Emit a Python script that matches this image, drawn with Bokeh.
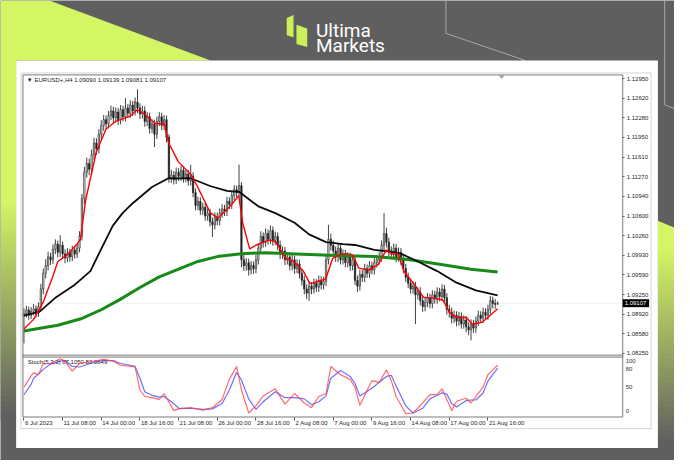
from bokeh.plotting import figure
from bokeh.models import (Range1d, FixedTicker, PrintfTickFormatter, ColumnDataSource,
                          BoxAnnotation, PolyAnnotation, Label, LinearAxis)
from bokeh.embed import file_html
from bokeh.resources import INLINE

# ---------------- data ----------------
time_tick_bars = [0, 16, 32, 48, 64, 80, 96, 112, 128, 144, 160, 176, 192]
time_tick_labels = ["6 Jul 2023", "11 Jul 08:00", "14 Jul 00:00", "18 Jul 16:00", "21 Jul 08:00",
                    "26 Jul 00:00", "28 Jul 16:00", "2 Aug 08:00", "7 Aug 00:00", "9 Aug 16:00",
                    "14 Aug 08:00", "17 Aug 00:00", "21 Aug 16:00"]
price_ticks = [1.12950, 1.12620, 1.12280, 1.11950, 1.11610, 1.11270, 1.10940, 1.10600,
               1.10260, 1.09930, 1.09590, 1.09250, 1.08920, 1.08580, 1.08250]
stoch_levels = [80, 50, 20]
stoch_scale_labels = [100, 80, 50, 0]

opens = [
 1.0889,1.0893,1.0899,1.0890,1.0897,1.0901,1.0894,1.0905,1.0935,1.0962,
 1.0975,1.0990,1.0985,1.1003,1.1012,1.0998,1.1010,1.0995,1.0988,1.0997,
 1.0990,1.1002,1.0995,1.1005,1.1025,1.1090,1.1135,1.1150,1.1140,1.1165,
 1.1185,1.1175,1.1200,1.1215,1.1225,1.1218,1.1232,1.1240,1.1228,1.1238,
 1.1225,1.1242,1.1230,1.1245,1.1236,1.1250,1.1240,1.1255,1.1245,1.1235,
 1.1240,1.1222,1.1230,1.1210,1.1218,1.1200,1.1222,1.1230,1.1215,1.1225,
 1.1195,1.1125,1.1130,1.1122,1.1135,1.1128,1.1138,1.1125,1.1132,1.1120,
 1.1128,1.1100,1.1078,1.1085,1.1070,1.1075,1.1060,1.1065,1.1050,1.1045,
 1.1058,1.1052,1.1065,1.1072,1.1068,1.1085,1.1080,1.1095,1.1105,1.1100,
 1.1112,1.0985,1.0975,1.0980,1.0968,1.0975,1.0970,1.0985,1.1005,1.1025,
 1.1015,1.1030,1.1020,1.1035,1.1018,1.1025,1.1010,1.0995,1.1000,1.0985,
 1.0990,1.0975,1.0985,1.0970,1.0978,1.0962,1.0950,1.0935,1.0928,1.0940,
 1.0935,1.0945,1.0938,1.0950,1.0942,1.0948,1.0985,1.1020,1.1010,1.1000,
 1.0990,1.1005,1.0985,1.0995,1.0980,1.0990,1.0975,1.0985,1.0950,1.0940,
 1.0960,1.0955,1.0970,1.0962,1.0975,1.0968,1.0980,1.0985,1.0990,1.1010,
 1.1030,1.1015,1.1000,1.0995,1.1005,1.0990,1.0998,1.0985,1.0970,1.0955,
 1.0945,1.0935,1.0940,1.0925,1.0930,1.0915,1.0905,1.0912,1.0920,1.0910,
 1.0925,1.0918,1.0930,1.0922,1.0935,1.0920,1.0900,1.0895,1.0885,1.0890,
 1.0880,1.0888,1.0875,1.0882,1.0870,1.0865,1.0875,1.0868,1.0880,1.0890,
 1.0885,1.0895,1.0890,1.0900,1.0915,1.0910,1.09090]
closes = [
 1.0893,1.0899,1.0890,1.0897,1.0901,1.0894,1.0905,1.0935,1.0962,1.0975,
 1.0990,1.0985,1.1003,1.1012,1.0998,1.1010,1.0995,1.0988,1.0997,1.0990,
 1.1002,1.0995,1.1005,1.1025,1.1090,1.1135,1.1150,1.1140,1.1165,1.1185,
 1.1175,1.1200,1.1215,1.1225,1.1218,1.1232,1.1240,1.1228,1.1238,1.1225,
 1.1242,1.1230,1.1245,1.1236,1.1250,1.1240,1.1255,1.1245,1.1235,1.1240,
 1.1222,1.1230,1.1210,1.1218,1.1200,1.1222,1.1230,1.1215,1.1225,1.1195,
 1.1125,1.1130,1.1122,1.1135,1.1128,1.1138,1.1125,1.1132,1.1120,1.1128,
 1.1100,1.1078,1.1085,1.1070,1.1075,1.1060,1.1065,1.1050,1.1045,1.1058,
 1.1052,1.1065,1.1072,1.1068,1.1085,1.1080,1.1095,1.1105,1.1100,1.1112,
 1.0985,1.0975,1.0980,1.0968,1.0975,1.0970,1.0985,1.1005,1.1025,1.1015,
 1.1030,1.1020,1.1035,1.1018,1.1025,1.1010,1.0995,1.1000,1.0985,1.0990,
 1.0975,1.0985,1.0970,1.0978,1.0962,1.0950,1.0935,1.0928,1.0940,1.0935,
 1.0945,1.0938,1.0950,1.0942,1.0948,1.0985,1.1020,1.1010,1.1000,1.0990,
 1.1005,1.0985,1.0995,1.0980,1.0990,1.0975,1.0985,1.0950,1.0940,1.0960,
 1.0955,1.0970,1.0962,1.0975,1.0968,1.0980,1.0985,1.0990,1.1010,1.1030,
 1.1015,1.1000,1.0995,1.1005,1.0990,1.0998,1.0985,1.0970,1.0955,1.0945,
 1.0935,1.0940,1.0925,1.0930,1.0915,1.0905,1.0912,1.0920,1.0910,1.0925,
 1.0918,1.0930,1.0922,1.0935,1.0920,1.0900,1.0895,1.0885,1.0890,1.0880,
 1.0888,1.0875,1.0882,1.0870,1.0865,1.0875,1.0868,1.0880,1.0890,1.0885,
 1.0895,1.0890,1.0900,1.0915,1.0910,1.0909,1.09107]
highs = [
 1.0902,1.0906,1.0905,1.0904,1.0909,1.0907,1.0912,1.0944,1.0970,1.0986,
 1.0999,1.0997,1.1011,1.1020,1.1018,1.1027,1.1016,1.1003,1.1005,1.1004,
 1.1009,1.1008,1.1012,1.1034,1.1098,1.1144,1.1160,1.1158,1.1174,1.1194,
 1.1193,1.1209,1.1224,1.1233,1.1232,1.1240,1.1249,1.1247,1.1246,1.1245,
 1.1250,1.1249,1.1262,1.1252,1.1258,1.1257,1.1263,1.1277,1.1253,1.1249,
 1.1248,1.1238,1.1237,1.1226,1.1225,1.1230,1.1238,1.1237,1.1233,1.1232,
 1.1200,1.1139,1.1137,1.1143,1.1142,1.1146,1.1145,1.1140,1.1139,1.1148,
 1.1135,1.1107,1.1093,1.1092,1.1083,1.1082,1.1073,1.1072,1.1057,1.1066,
 1.1066,1.1073,1.1080,1.1079,1.1093,1.1092,1.1103,1.1113,1.1112,1.1148,
 1.1118,1.0993,1.0988,1.0987,1.0983,1.0982,1.0993,1.1013,1.1034,1.1032,
 1.1039,1.1037,1.1044,1.1042,1.1033,1.1032,1.1018,1.1008,1.1007,1.0998,
 1.0997,1.0993,1.0992,1.0986,1.0985,1.0970,1.0958,1.0943,1.0948,1.0947,
 1.0953,1.0952,1.0958,1.0957,1.0956,1.0994,1.1045,1.1030,1.1018,1.1008,
 1.1013,1.1012,1.1003,1.1002,1.0998,1.0997,1.0993,1.0992,1.0958,1.0968,
 1.0968,1.0978,1.0977,1.0983,1.0982,1.0988,1.0993,1.0998,1.1018,1.1065,
 1.1040,1.1023,1.1008,1.1013,1.1012,1.1006,1.1005,1.0993,1.0978,1.0963,
 1.0953,1.0948,1.0947,1.0938,1.0938,1.0923,1.0920,1.0928,1.0927,1.0933,
 1.0932,1.0938,1.0937,1.0943,1.0942,1.0928,1.0908,1.0903,1.0898,1.0897,
 1.0896,1.0895,1.0890,1.0889,1.0878,1.0883,1.0882,1.0888,1.0898,1.0897,
 1.0903,1.0902,1.0908,1.0923,1.0922,1.0918,1.09139]
lows = [
 1.0842,1.0886,1.0882,1.0884,1.0890,1.0886,1.0887,1.0898,1.0926,1.0953,
 1.0967,1.0976,1.0978,1.0995,1.0989,1.0990,1.0986,1.0979,1.0981,1.0982,
 1.0983,1.0987,1.0988,1.0998,1.1018,1.1080,1.1126,1.1130,1.1132,1.1156,
 1.1165,1.1167,1.1191,1.1206,1.1209,1.1210,1.1224,1.1219,1.1220,1.1216,
 1.1217,1.1222,1.1222,1.1228,1.1228,1.1231,1.1232,1.1236,1.1226,1.1227,
 1.1213,1.1214,1.1201,1.1202,1.1178,1.1192,1.1214,1.1207,1.1207,1.1186,
 1.1117,1.1117,1.1114,1.1115,1.1120,1.1120,1.1117,1.1118,1.1112,1.1112,
 1.1092,1.1070,1.1070,1.1062,1.1062,1.1052,1.1052,1.1042,1.1024,1.1037,
 1.1044,1.1044,1.1057,1.1060,1.1060,1.1072,1.1072,1.1087,1.1092,1.1092,
 1.0972,1.0966,1.0966,1.0958,1.0960,1.0961,1.0962,1.0977,1.0997,1.1006,
 1.1007,1.1011,1.1012,1.1009,1.1010,1.1001,1.0986,1.0987,1.0976,1.0977,
 1.0967,1.0967,1.0961,1.0962,1.0953,1.0941,1.0926,1.0918,1.0915,1.0926,
 1.0927,1.0930,1.0930,1.0934,1.0934,1.0940,1.0977,1.1001,1.0991,1.0981,
 1.0981,1.0977,1.0977,1.0972,1.0972,1.0966,1.0967,1.0942,1.0930,1.0932,
 1.0947,1.0947,1.0954,1.0954,1.0960,1.0960,1.0972,1.0977,1.0982,1.1002,
 1.1006,1.0991,1.0986,1.0987,1.0981,1.0982,1.0976,1.0962,1.0947,1.0937,
 1.0927,1.0927,1.0875,1.0917,1.0907,1.0896,1.0897,1.0904,1.0902,1.0902,
 1.0910,1.0910,1.0914,1.0914,1.0912,1.0891,1.0886,1.0876,1.0877,1.0871,
 1.0872,1.0867,1.0867,1.0861,1.0856,1.0847,1.0860,1.0860,1.0872,1.0877,
 1.0877,1.0882,1.0882,1.0892,1.0902,1.0901,1.09081]

# fast moving average (red)
ma_fast_bar = [0, 4, 8, 12, 14, 18, 22, 23.4, 25.5, 29.9, 34, 38, 43.7, 46.9, 50.1, 54.2, 58.2,
               59.8, 63.9, 69.1, 71.9, 77.2, 80.4, 85.3, 88.9, 90.5, 93.4, 96.2, 101.5, 104.3,
               108.3, 111.6, 115.6, 118.4, 122.5, 124.9, 127.7, 130.6, 133, 135.8, 138.6, 142.7,
               146.7, 150, 152, 154.8, 157.2, 161.3, 165.3, 169.4, 173.4, 176.2, 179.1, 183.1,
               185.5, 189.6, 192.4, 196]
ma_fast_val = [1.08664, 1.08830, 1.09127, 1.09574, 1.09822, 1.09938, 1.10120, 1.10203, 1.10865,
               1.11692, 1.12089, 1.12222, 1.12305, 1.12420, 1.12338, 1.12189, 1.12172, 1.11858,
               1.11527, 1.11312, 1.11097, 1.10650, 1.10567, 1.10766, 1.10948, 1.10484, 1.10038,
               1.10104, 1.10187, 1.10153, 1.09872, 1.09822, 1.09657, 1.09442, 1.09491, 1.09525,
               1.09872, 1.09938, 1.09955, 1.09938, 1.09707, 1.09674, 1.09773, 1.10021, 1.09955,
               1.09955, 1.09657, 1.09442, 1.09210, 1.09194, 1.09161, 1.08945, 1.08863, 1.08863,
               1.08747, 1.08780, 1.08879, 1.09012]
# middle moving average (black)
ma_mid_bar = [0, 6.5, 13.3, 20.6, 27.5, 32, 36.8, 40.8, 44.9, 53, 59.8, 69, 77, 84, 89, 97, 104,
              112, 118, 125, 132, 137, 145, 152, 156, 163, 171, 179, 187, 196]
ma_mid_val = [1.08896, 1.08962, 1.09210, 1.09409, 1.09657, 1.10038, 1.10435, 1.10650, 1.10815,
              1.11097, 1.11246, 1.11246, 1.11114, 1.11030, 1.11014, 1.10766, 1.10650, 1.10484,
              1.10286, 1.10153, 1.10120, 1.10104, 1.10021, 1.09988, 1.09955, 1.09822, 1.09657,
              1.09458, 1.09326, 1.09243]
# slow moving average (green)
ma_slow_bar = [0, 14, 24, 32, 40, 48, 56, 64, 72, 80, 90, 100, 110, 129, 145, 159, 172, 185, 196]
ma_slow_val = [1.08631, 1.08730, 1.08846, 1.08995, 1.09177, 1.09376, 1.09558, 1.09690, 1.09822,
               1.09905, 1.09955, 1.09971, 1.09955, 1.09922, 1.09905, 1.09855, 1.09773, 1.09690,
               1.09640]

# stochastic oscillator
stoch_bar = [0, 3, 4, 6, 8, 11, 15, 17, 20, 23, 29, 33, 37, 40, 44, 46, 48, 50, 53, 56, 58, 62,
             64, 69, 74, 78, 82, 85, 88, 90, 93, 96, 99, 104, 108, 112, 116, 119, 122, 125, 127,
             131, 135, 137, 139, 144, 147, 150, 152, 154, 158, 161, 165, 168, 171, 173, 175, 177,
             179, 183, 185, 187, 190, 192, 196]
stoch_main = [50, 69, 74, 71, 90, 90, 98, 94, 77, 90, 94, 97, 94, 87, 85, 84, 45, 34, 32, 29, 39,
              10, 13, 15, 11, 15, 29, 63, 85, 45, 6, 18, 35, 47, 21, 39, 23, 15, 34, 39, 85, 71,
              63, 50, 19, 61, 58, 79, 61, 34, 5, 6, 23, 37, 37, 47, 29, 10, 26, 31, 23, 34, 50,
              71, 87]
stoch_signal = [37, 55, 65, 72, 80, 89, 94, 95, 85, 84, 92, 95, 95, 90, 87, 85, 65, 42, 36, 33,
                34, 22, 14, 14, 12, 13, 22, 45, 75, 62, 30, 12, 25, 42, 32, 32, 30, 20, 25, 35,
                65, 78, 68, 56, 35, 48, 58, 68, 70, 52, 18, 6, 14, 30, 36, 40, 38, 22, 16, 27,
                28, 28, 40, 60, 82]

symbol_text = "\u25BC EURUSD+,H4  1.09090 1.09139 1.09081 1.09107"
stoch_text = "Stoch(5,3,3) 87.1050 82.0649"

# ---------------- geometry ----------------
W, H = 674, 460
SX, SY = W / 690.0, H / 476.0          # reference picture -> canvas
GRAY = "#5f5f5f"
LIME = (212, 245, 100)
GRAY_RGB = (95, 95, 95)
FONT = "Liberation Sans"

X_RANGE = (-9.701, 269.199)
Y_RANGE = (1.064135, 1.142904)
STOCH_RANGE = (-74.59, 705.74)

p = figure(width=W, height=H, output_backend="svg", toolbar_location=None, tools="",
           x_range=Range1d(*X_RANGE), y_range=Range1d(*Y_RANGE),
           x_axis_location=None, y_axis_location=None,
           min_border=0, border_fill_color=GRAY, background_fill_color=GRAY)
p.outline_line_color = None
p.xgrid.visible = False
p.ygrid.visible = False
p.extra_y_ranges = {"stoch": Range1d(*STOCH_RANGE)}


def cx(X):
    return X * SX


def cy(Y):
    return Y * SY


def hexc(c):
    return "#%02x%02x%02x" % tuple(int(round(v)) for v in c)


def lerp(c1, c2, t):
    t = max(0.0, min(1.0, t))
    return hexc([a + (b - a) * t for a, b in zip(c1, c2)])


def add_poly(pts, fill=None, line=None, lw=1, level="image", dash="solid"):
    p.add_layout(PolyAnnotation(xs=[cx(x) for x, _ in pts], ys=[cy(y) for _, y in pts],
                                xs_units="canvas", ys_units="canvas",
                                fill_color=fill, fill_alpha=1.0 if fill else 0.0,
                                line_color=line, line_width=lw, line_alpha=1.0 if line else 0.0,
                                line_dash=dash, level=level))


def add_box(l, t, r, b, fill=None, line=None, lw=1, level="image"):
    p.add_layout(BoxAnnotation(left=cx(l), right=cx(r), top=cy(t), bottom=cy(b),
                               left_units="canvas", right_units="canvas",
                               top_units="canvas", bottom_units="canvas",
                               fill_color=fill, fill_alpha=1.0 if fill else 0.0,
                               line_color=line, line_width=lw, line_alpha=1.0 if line else 0.0,
                               level=level))


def hline(value, x0, x1, color, dash="solid", range_name="default", level="underlay"):
    p.add_layout(PolyAnnotation(xs=[cx(x0), cx(x1)], ys=[value, value],
                                xs_units="canvas", ys_units="data", y_range_name=range_name,
                                fill_alpha=0.0, line_color=color, line_width=1,
                                line_dash=dash, level=level))


# ---------------- background decoration ----------------
add_poly([(0, 0), (50, 0), (215, 62), (0, 62)], fill=hexc(LIME))
add_box(0, 61, 16, 206, fill=hexc(LIME))
y0 = 205
while y0 < 432:
    add_box(0, y0, 16, y0 + 6, fill=lerp(LIME, GRAY_RGB, (y0 - 205) / 220.0))
    y0 += 5
add_poly([(673, 228), (690, 235), (690, 256), (673, 256)], fill=hexc(LIME))
y0 = 255
while y0 < 462:
    add_box(673, y0, 690, y0 + 6, fill=lerp(LIME, GRAY_RGB, (y0 - 255) / 200.0))
    y0 += 5
for seg in [[(456, 0), (456, 34)], [(456, 34), (537, 62)],
            [(680, 0), (680, 108)], [(680, 108), (690, 112)]]:
    add_poly(seg, line="#a8a8a8", lw=1)

# white card and chart window
add_box(16, 62, 673, 463, fill="white")
add_box(21, 75, 666, 443, line="#d6d6d6", lw=1)

# logo
add_poly([(293, 18), (300, 15), (300, 38), (293, 36)], fill="#cdef5a")
add_poly([(303, 25), (314, 29), (314, 48), (303, 45)], fill="#cdef5a")
for txt, base in [("Ultima", 31), ("Markets", 47)]:
    p.add_layout(Label(x=cx(323), y=cy(base), x_units="canvas", y_units="canvas", text=txt,
                       text_color="white", text_font="Roboto", text_font_size="19px",
                       text_baseline="alphabetic", level="overlay"))

# ---------------- price panel ----------------
FL, FT, FR, FB = 23, 77, 637, 431      # chart frame in the reference picture
hline(closes[-1], FL, FR, "#cfcfcf")

idx = list(range(len(closes)))
up = [c >= o for o, c in zip(opens, closes)]
src = ColumnDataSource(dict(
    x=idx, h=highs, l=lows,
    top=[max(o, c) for o, c in zip(opens, closes)],
    bottom=[min(o, c) for o, c in zip(opens, closes)],
    fill=["white" if u else "#1a1a1a" for u in up]))
p.segment(x0="x", y0="l", x1="x", y1="h", source=src, line_color="#2a2a2a", line_width=0.9)
p.vbar(x="x", width=0.55, top="top", bottom="bottom", fill_color="fill", line_color="#2a2a2a",
       line_width=0.7, source=src)

p.line(ma_slow_bar, ma_slow_val, line_color="#178a17", line_width=3)
p.line(ma_mid_bar, ma_mid_val, line_color="#0a0a0a", line_width=1.8)
p.line(ma_fast_bar, ma_fast_val, line_color="#ff0000", line_width=1.4)

p.add_layout(Label(x=cx(27), y=cy(82), x_units="canvas", y_units="canvas", text=symbol_text,
                   text_font=FONT, text_font_size="6px", text_color="#1a1a1a",
                   text_baseline="middle"))
add_poly([(510, 77.5), (516, 77.5), (513, 81)], fill="#a0a0a0", level="annotation")

# current price tag
last = closes[-1]
p.add_layout(BoxAnnotation(left=cx(637), right=cx(664), left_units="canvas", right_units="canvas",
                           top=last + 0.00068, bottom=last - 0.00068, fill_color="black",
                           fill_alpha=1.0, line_color=None, level="overlay"))
p.add_layout(Label(x=cx(639), x_units="canvas", y=last, text="%.5f" % last, text_color="white",
                   text_font=FONT, text_font_size="6px", text_baseline="middle", level="overlay"))

# ---------------- stochastic panel ----------------
for lev in stoch_levels:
    hline(lev, FL, FR, "#a0a0a0", dash="2 2", range_name="stoch")
p.line(stoch_bar, stoch_signal, y_range_name="stoch", line_color="#3d3dff", line_alpha=0.75,
       line_width=1.2)
p.line(stoch_bar, stoch_main, y_range_name="stoch", line_color="#ff3b3b", line_alpha=0.75,
       line_width=1.2)
p.add_layout(Label(x=cx(28), y=cy(374), x_units="canvas", y_units="canvas", text=stoch_text,
                   text_font=FONT, text_font_size="6px", text_color="#1a1a1a",
                   text_baseline="middle", level="underlay"))
# MetaTrader keeps the extreme scale labels inside the sub-window
label_nudge = {100: -3, 0: 6}
for v in stoch_scale_labels:
    p.add_layout(Label(x=cx(640), x_units="canvas", y=v, y_range_name="stoch", text=str(v),
                       y_offset=label_nudge.get(v, 0),
                       text_font=FONT, text_font_size="6px", text_color="#333333",
                       text_baseline="middle", level="overlay"))

# frame outline and panel separator
add_box(FL, FT, FR, FB, line="#7a7a7a", lw=1, level="annotation")
add_box(FL, 367, FR, 369, fill="white", line="#7a7a7a", lw=1, level="annotation")

# ---------------- axes (fixed inside the canvas) ----------------
yax = LinearAxis(fixed_location=(FR - 24) / 2.474, ticker=FixedTicker(ticks=price_ticks),
                 formatter=PrintfTickFormatter(format="%.5f"))
yax.major_label_text_font = FONT
yax.major_label_text_font_size = "6px"
yax.major_label_text_color = "#1e1e2a"
yax.major_tick_out = 2
yax.major_tick_in = 0
yax.major_tick_line_color = "#555555"
yax.minor_tick_line_color = None
yax.axis_line_color = None
yax.major_label_standoff = 2
p.add_layout(yax, "right")

xax = LinearAxis(fixed_location=1.1295 - (FB - 81) / 6043.0, ticker=FixedTicker(ticks=time_tick_bars))
xax.major_label_text_alpha = 0
xax.major_tick_out = 3
xax.major_tick_in = 0
xax.major_tick_line_color = "#555555"
xax.minor_tick_line_color = None
xax.axis_line_color = None
p.add_layout(xax, "below")

for b, t in zip(time_tick_bars, time_tick_labels):
    p.add_layout(Label(x=b, y=cy(437), y_units="canvas", text=t, text_font=FONT,
                       text_font_size="6px", text_color="#1e1e2a", text_baseline="middle",
                       text_align="left", x_offset=1, level="overlay"))

open("out.html", "w").write(file_html(p, INLINE))
